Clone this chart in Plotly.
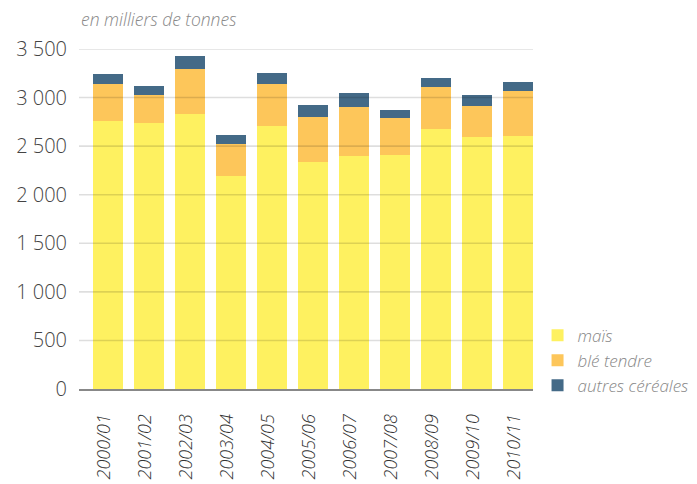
import plotly.graph_objects as go

campagnes = ["2000/01", "2001/02", "2002/03", "2003/04", "2004/05", "2005/06",
             "2006/07", "2007/08", "2008/09", "2009/10", "2010/11"]
mais = [2759, 2740, 2834, 2196, 2707, 2337, 2398, 2409, 2676, 2594, 2604]
ble_tendre = [384, 286, 460, 326, 436, 463, 505, 381, 433, 319, 464]
autres_cereales = [103, 93, 134, 93, 110, 123, 144, 82, 92, 113, 92]
y_ticks = [0, 500, 1000, 1500, 2000, 2500, 3000, 3500]

FONT = "Open Sans, Lato, DejaVu Sans, sans-serif"

fig = go.Figure()
for name, vals, col in [("maïs", mais, "#FEF160"),
                        ("blé tendre", ble_tendre, "#FDC65A"),
                        ("autres céréales", autres_cereales, "#446A87")]:
    fig.add_trace(go.Bar(x=campagnes, y=vals, name=name,
                         marker=dict(color=col, line=dict(width=0))))

shapes = [dict(type="line", xref="paper", yref="y", x0=0, x1=1, y0=v, y1=v,
               layer="above", line=dict(color="rgba(0,0,0,0.13)", width=1.6))
          for v in y_ticks[1:]]

fig.update_layout(
    width=697, height=484,
    margin=dict(l=79, r=164, t=49, b=95, autoexpand=False),
    barmode="stack", bargap=0.27,
    plot_bgcolor="white", paper_bgcolor="white",
    separators=", ",
    font=dict(family=FONT, color="#444"),
    shapes=shapes,
    showlegend=True,
    legend=dict(traceorder="normal", x=1.01, xanchor="left", y=0.21, yanchor="top",
                font=dict(size=17, color="#888", style="italic", weight=300),
                itemwidth=30, tracegroupgap=0, bgcolor="rgba(0,0,0,0)"),
    annotations=[dict(text="en milliers de tonnes", xref="paper", yref="paper",
                      x=0, y=1, yshift=44, xanchor="left", yanchor="top",
                      showarrow=False,
                      font=dict(size=17.5, color="#888", style="italic", weight=300))],
)
fig.update_xaxes(type="category", range=[-0.707, 10.366], automargin=False,
                 tickangle=-90, showgrid=False, ticks="",
                 ticklabelstandoff=16, ticklabelshift=-4,
                 tickfont=dict(size=18, color="#333", style="italic", weight=300),
                 showline=True, linecolor="#888", linewidth=2)
fig.update_yaxes(range=[0, 3500], tickvals=y_ticks, tickformat=",d", automargin=False,
                 showgrid=False, zeroline=False, showline=False, ticks="",
                 ticklabelstandoff=11,
                 tickfont=dict(size=20, color="#444", weight=300))

fig.write_html("out.html", config={"displayModeBar": False},
               post_script="document.body.style.margin='0';document.body.style.overflow='hidden';")
